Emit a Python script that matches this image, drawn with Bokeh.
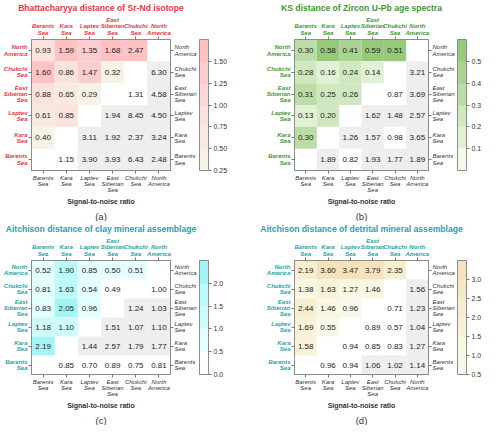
from bokeh.plotting import figure
from bokeh.models import (ColumnDataSource, LinearColorMapper, ColorBar, FixedTicker,
                          LinearAxis, Range1d, Title, PrintfTickFormatter)
from bokeh.layouts import column, row
from bokeh.embed import file_html
from bokeh.resources import INLINE

# ---------------- data ----------------
regions = ["Barents Sea", "Kara Sea", "Laptev Sea", "East Siberian Sea", "Chukchi Sea", "North America"]
tick_labels = ["Barents\nSea", "Kara\nSea", "Laptev\nSea", "East\nSiberian\nSea", "Chukchi\nSea", "North\nAmerica"]

# upper-left triangle: rows North America, Chukchi, East Siberian, Laptev, Kara; columns from Barents
dist_a = [[0.93, 1.59, 1.35, 1.68, 2.47], [1.60, 0.86, 1.47, 0.32], [0.88, 0.65, 0.29], [0.61, 0.85], [0.40]]
dist_b = [[0.30, 0.58, 0.41, 0.59, 0.51], [0.28, 0.16, 0.24, 0.14], [0.31, 0.25, 0.26], [0.13, 0.20], [0.30]]
dist_c = [[0.52, 1.90, 0.85, 0.50, 0.51], [0.81, 1.63, 0.54, 0.49], [0.83, 2.05, 0.96], [1.18, 1.10], [2.19]]
dist_d = [[2.19, 3.60, 3.47, 3.79, 2.35], [1.38, 1.63, 1.27, 1.46], [2.44, 1.46, 0.96], [1.69, 0.55], [1.58]]

# lower-right triangle (signal-to-noise): rows Chukchi, East Siberian, Laptev, Kara, Barents; columns ending at North America
snr_a = [[6.30], [1.31, 4.58], [1.94, 8.45, 4.50], [3.11, 1.92, 2.37, 3.24], [1.15, 3.90, 3.93, 6.43, 2.48]]
snr_b = [[3.21], [0.87, 3.69], [1.62, 1.48, 2.57], [1.26, 1.57, 0.98, 3.65], [1.89, 0.82, 1.93, 1.77, 1.89]]
snr_c = [[1.00], [1.24, 1.03], [1.51, 1.07, 1.10], [1.44, 2.57, 1.79, 1.77], [0.85, 0.70, 0.89, 0.75, 0.81]]
snr_d = [[1.56], [0.71, 1.23], [0.89, 0.57, 1.04], [0.94, 0.85, 0.83, 1.27], [0.96, 0.94, 1.06, 1.02, 1.14]]

titles = ["Bhattacharyya distance of Sr-Nd isotope", "KS distance of Zircon U-Pb age spectra",
          "Aitchison distance of clay mineral assemblage", "Aitchison distance of detrital mineral assemblage"]
letters = ["(a)", "(b)", "(c)", "(d)"]

cbar_ticks_a = [0.25, 0.50, 0.75, 1.00, 1.25, 1.50]
cbar_ticks_b = [0.1, 0.2, 0.3, 0.4, 0.5]
cbar_ticks_c = [0.0, 0.5, 1.0, 1.5, 2.0]
cbar_ticks_d = [0.5, 1.0, 1.5, 2.0, 2.5, 3.0]
cbar_range_a = (0.25, 1.75)
cbar_range_b = (0.0, 0.6)
cbar_range_c = (0.0, 2.5)
cbar_range_d = (0.5, 3.5)
snr_threshold = [1.5, 1.01, 1.01, 1.01]

# ---------------- styles ----------------
pal_a = ["#f7f2e6", "#f9eae1", "#fbe2dc", "#fcd8d6", "#fdcdcd", "#ffc2c2"]
pal_b = ["#f3faee", "#e2f1d6", "#d0e8c0", "#bddda8", "#aad393", "#97c97d"]
pal_c = ["#ffffff", "#e4fdfd", "#d0fbfb", "#bcf9f9", "#a6f5f6"]
pal_d = ["#f7faea", "#f8f7e1", "#f8f2d8", "#f7edcf", "#f6e8c6", "#f5e2bc"]
accent = ["#e8383d", "#3c9a2c", "#1fa3a8", "#1fa3a8"]
FONT = "Liberation Sans"
GRAY_TXT = "#333333"
SNR_GRAY = "#eeeeee"


def make_panel(k, dist, snr, pal, rng, cticks, fmt, width, height, borders):
    bl, br, bt, bb = borders
    p = figure(width=width, height=height, x_range=Range1d(0, 6), y_range=Range1d(0, 6),
               output_backend="svg", toolbar_location=None,
               min_border_left=bl, min_border_right=br, min_border_top=bt, min_border_bottom=bb)
    p.grid.visible = False
    p.outline_line_color = "#8c8c8c"
    p.background_fill_color = "white"
    p.border_fill_color = "white"

    # build cells
    dx, dy, dv = [], [], []
    for i, vals in enumerate(dist):
        for j, v in enumerate(vals):
            dx.append(j + 0.5); dy.append(5 - i + 0.5); dv.append(v)
    sx, sy, sv = [], [], []
    for r, vals in enumerate(snr):
        start = 5 - r
        for j, v in enumerate(vals):
            sx.append(start + j + 0.5); sy.append(4 - r + 0.5); sv.append(v)

    mapper = LinearColorMapper(palette=pal, low=rng[0], high=rng[1],
                               low_color=pal[0], high_color=pal[-1])
    thr = snr_threshold[k]
    gmapper = LinearColorMapper(palette=[SNR_GRAY], low=thr, high=1000,
                                low_color="#ffffff", high_color=SNR_GRAY)

    dsrc = ColumnDataSource(dict(x=dx, y=dy, v=dv, t=["%.2f" % v for v in dv]))
    ssrc = ColumnDataSource(dict(x=sx, y=sy, v=sv, t=["%.2f" % v for v in sv]))
    p.rect("x", "y", width=1, height=1, source=dsrc,
           fill_color={"field": "v", "transform": mapper}, line_color=None)
    p.rect("x", "y", width=1, height=1, source=ssrc,
           fill_color={"field": "v", "transform": gmapper}, line_color=None)
    for src in (dsrc, ssrc):
        p.text("x", "y", text="t", source=src, text_align="center", text_baseline="middle",
               text_font_size="8px", text_color="#222222", text_font={"value": FONT})

    ticks = [0.5, 1.5, 2.5, 3.5, 4.5, 5.5]
    overrides = {t: lab for t, lab in zip(ticks, tick_labels)}

    def style_axis(ax, colored):
        ax.ticker = FixedTicker(ticks=ticks)
        ax.major_label_overrides = overrides
        ax.major_label_text_font = FONT
        ax.major_label_text_font_size = "6px"
        ax.major_label_text_line_height = 1.05
        ax.major_label_standoff = 1
        ax.major_label_text_font_style = "bold italic" if colored else "italic"
        ax.major_label_text_color = accent[k] if colored else GRAY_TXT
        ax.major_tick_in = 0
        ax.major_tick_out = 3
        ax.major_tick_line_color = "#777777"
        ax.minor_tick_line_color = None
        ax.axis_line_color = "#8c8c8c"

    bottom = p.xaxis[0]
    left = p.yaxis[0]
    style_axis(bottom, False)
    style_axis(left, True)
    left.major_label_text_align = "right"
    bottom.axis_label = "Signal-to-noise ratio"
    bottom.axis_label_text_font = FONT
    bottom.axis_label_text_font_size = "7px"
    bottom.axis_label_text_font_style = "bold"
    bottom.axis_label_text_color = GRAY_TXT
    bottom.axis_label_standoff = 2

    top = LinearAxis()
    style_axis(top, True)
    p.add_layout(top, "above")
    right = LinearAxis()
    style_axis(right, False)
    p.add_layout(right, "right")

    p.title.text = titles[k]
    p.title.text_font = FONT
    p.title.text_font_size = "8.6px"
    p.title.text_font_style = "bold"
    p.title.text_color = accent[k]
    p.title.align = "center"
    p.title.standoff = 1

    lt = Title(text=letters[k], align="center", text_font=FONT, text_font_size="9.5px",
               text_font_style="normal", text_color=GRAY_TXT, standoff=0)
    p.add_layout(lt, "below")

    cb = ColorBar(color_mapper=mapper, ticker=FixedTicker(ticks=cticks),
                  formatter=PrintfTickFormatter(format=fmt), width=9,
                  padding=0, margin=10, bar_line_color="#8c8c8c", bar_line_width=1,
                  major_tick_line_color="#777777", major_tick_in=0, major_tick_out=3,
                  minor_tick_line_color=None, label_standoff=2,
                  major_label_text_font=FONT, major_label_text_font_size="7px",
                  major_label_text_color=GRAY_TXT,
                  border_line_color=None, background_fill_color=None)
    p.add_layout(cb, "right")
    return p


p1 = make_panel(0, dist_a, snr_a, pal_a, cbar_range_a, cbar_ticks_a, "%.2f", 242, 221, (26, 72, 29, 50))
p2 = make_panel(1, dist_b, snr_b, pal_b, cbar_range_b, cbar_ticks_b, "%.1f", 242, 221, (52, 54, 29, 50))
p3 = make_panel(2, dist_c, snr_c, pal_c, cbar_range_c, cbar_ticks_c, "%.1f", 242, 204, (26, 72, 29, 42))
p4 = make_panel(3, dist_d, snr_d, pal_d, cbar_range_d, cbar_ticks_d, "%.1f", 242, 204, (52, 54, 29, 42))

layout = column(row(p1, p2), row(p3, p4))
open("out.html", "w").write(file_html(layout, INLINE))
